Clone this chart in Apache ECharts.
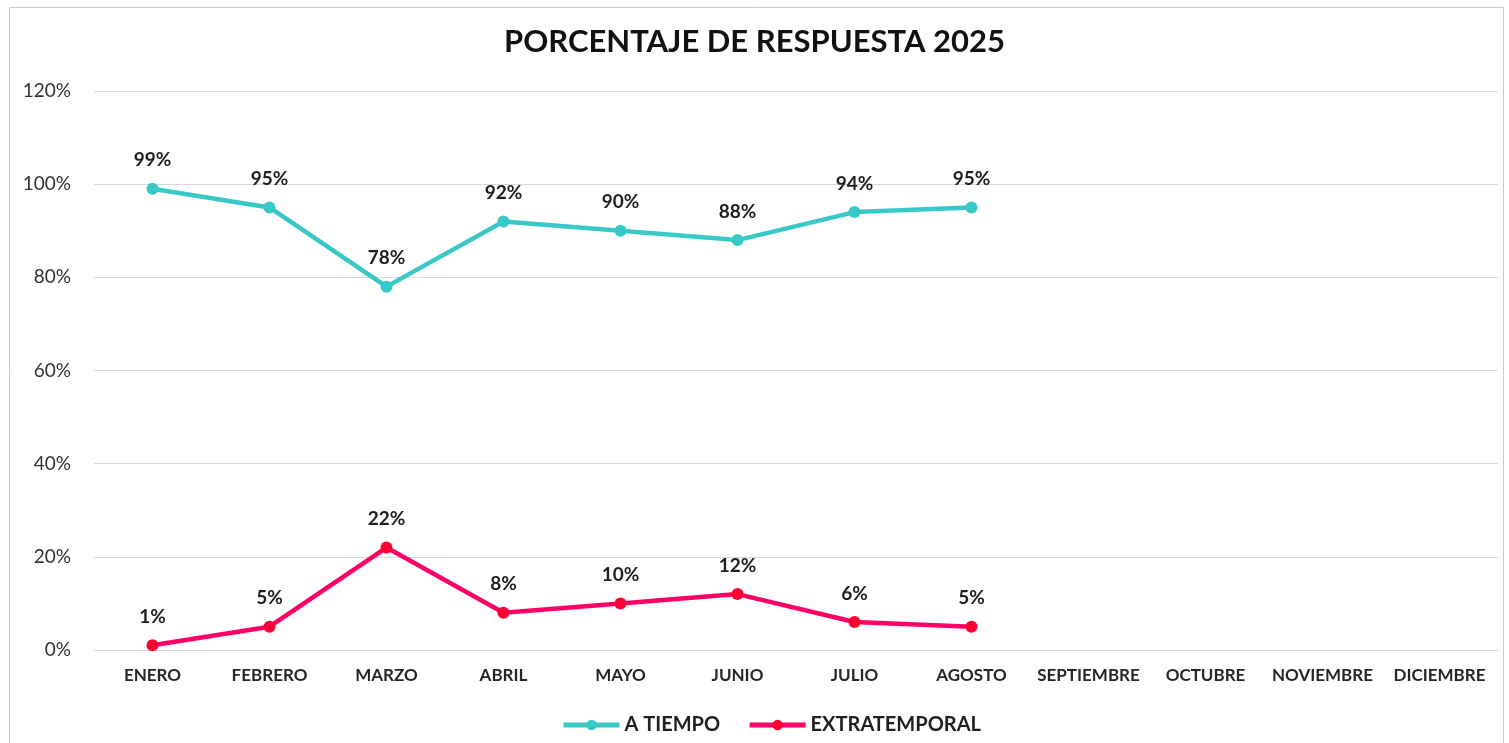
<!DOCTYPE html>
<html>
<head>
<meta charset="utf-8">
<script src="https://cdn.jsdelivr.net/npm/echarts@6/dist/echarts.min.js"></script>
<style>
html, body { margin: 0; padding: 0; background: #fff; }
#myChart { width: 1509px; height: 743px; }
</style>
</head>
<body>
<div id="myChart"></div>
<script>
// datos
const meses = ['ENERO', 'FEBRERO', 'MARZO', 'ABRIL', 'MAYO', 'JUNIO', 'JULIO', 'AGOSTO', 'SEPTIEMBRE', 'OCTUBRE', 'NOVIEMBRE', 'DICIEMBRE']
const aTiempo = [0.99, 0.95, 0.78, 0.92, 0.90, 0.88, 0.94, 0.95]
const extratemporal = [0.01, 0.05, 0.22, 0.08, 0.10, 0.12, 0.06, 0.05]

const fuente = 'Lato, "Open Sans", sans-serif'
const pct = v => Math.round(v * 100) + '%'

let myChart = echarts.init(document.getElementById('myChart'))

const etiqueta = {
  show: true,
  position: 'top',
  distance: 13,
  fontFamily: fuente,
  fontWeight: 'bold',
  fontSize: 19,
  color: '#1f1f1f',
  formatter: p => pct(p.value)
}

myChart.setOption({
  animation: false,
  textStyle: { fontFamily: fuente },
  graphic: [{
    type: 'rect',
    shape: { x: 9.5, y: 7.5, width: 1494, height: 745 },
    style: { fill: 'none', stroke: '#c8c8c8', lineWidth: 1 },
    silent: true
  }],
  title: {
    text: 'PORCENTAJE DE RESPUESTA 2025',
    left: 'center',
    top: 21,
    textStyle: { fontFamily: fuente, fontSize: 31, fontWeight: 'bold', color: '#111' }
  },
  legend: {
    bottom: 3,
    left: 556,
    itemWidth: 56,
    itemHeight: 13,
    itemGap: 27,
    lineStyle: { width: 5 },
    textStyle: { fontFamily: fuente, fontSize: 20, fontWeight: 'bold', color: '#1f1f1f' },
    data: ['A TIEMPO', 'EXTRATEMPORAL']
  },
  grid: { left: 94, right: 11, top: 91, bottom: 93 },
  xAxis: {
    type: 'category',
    data: meses,
    boundaryGap: true,
    axisLine: { show: true, lineStyle: { color: '#d9d9d9', width: 1 } },
    axisTick: { show: false },
    axisLabel: { interval: 0, margin: 17, fontFamily: fuente, fontSize: 17, fontWeight: 'bold', color: '#262626' }
  },
  yAxis: {
    type: 'value',
    min: 0,
    max: 1.2,
    interval: 0.2,
    axisLine: { show: false },
    axisTick: { show: false },
    splitLine: { lineStyle: { color: '#d9d9d9', width: 1 } },
    axisLabel: { margin: 23, fontFamily: fuente, fontSize: 19, color: '#333', formatter: v => pct(v) }
  },
  series: [
    {
      name: 'A TIEMPO',
      type: 'line',
      data: aTiempo,
      symbol: 'circle',
      symbolSize: 12,
      lineStyle: { width: 4.5, color: '#38C8C8' },
      itemStyle: { color: '#38C8C8' },
      label: etiqueta
    },
    {
      name: 'EXTRATEMPORAL',
      type: 'line',
      data: extratemporal,
      symbol: 'circle',
      symbolSize: 12,
      lineStyle: { width: 4.5, color: '#FF0066' },
      itemStyle: { color: '#FF0033' },
      label: etiqueta
    }
  ]
})
</script>
</body>
</html>
